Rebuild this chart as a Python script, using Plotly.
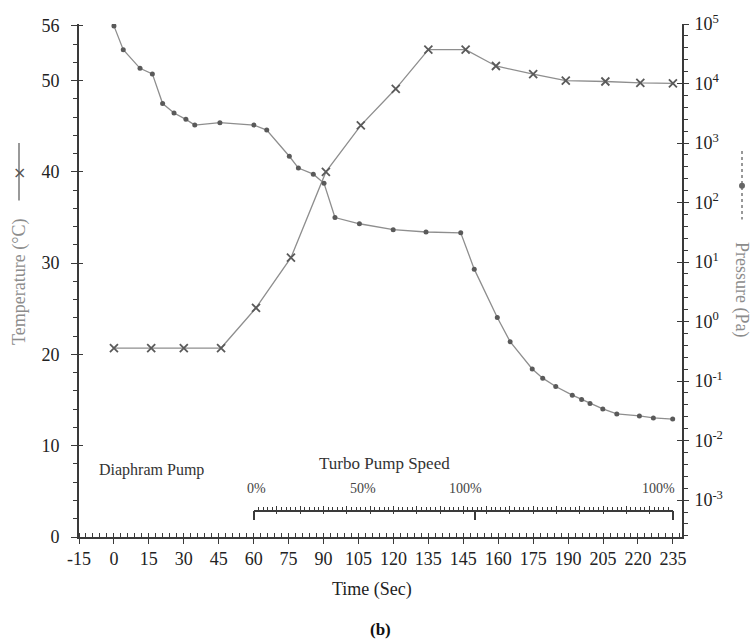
import plotly.graph_objects as go

# ---------------- data (x in axis-position units) ----------------
temp_time = [0, 16, 30, 46, 61, 76, 91, 106, 121, 135, 151, 164, 180, 194, 211, 226, 240]
temp_vals = [20.7, 20.7, 20.7, 20.7, 25.1, 30.6, 40.0, 45.1, 49.1, 53.4, 53.4, 51.6, 50.7, 50.0, 49.9, 49.75, 49.7]

pres_time = [0.0, 4.0, 11.2, 16.5, 20.9, 25.8, 30.9, 34.7, 45.5, 60.1, 65.6, 75.3, 79.2, 85.6, 90.2,
             94.9, 105.4, 119.9, 134.0, 148.9, 154.7, 164.6, 170.1, 179.6, 184.1, 189.7, 196.8,
             200.8, 204.4, 209.9, 215.9, 225.6, 231.6, 239.9]
pres_vals = [9.3e4, 3.7e4, 1.8e4, 1.45e4, 4.6e3, 3.2e3, 2.5e3, 2.0e3, 2.2e3, 2.0e3, 1.65e3, 6.0e2,
             3.8e2, 3.0e2, 2.1e2, 56, 44, 35, 32, 31, 7.6, 1.17, 0.46, 0.16, 0.112, 0.081, 0.058,
             0.049, 0.042, 0.034, 0.028, 0.026, 0.024, 0.023]

x_tick_pos = [-15, 0, 15, 30, 45, 60, 75, 90, 105, 120, 135, 150, 165, 180, 195, 210, 225, 240]
x_tick_text = ["-15", "0", "15", "30", "45", "60", "75", "90", "105", "120", "135", "145",
               "160", "175", "190", "205", "220", "235"]
t_tick_vals = [0, 10, 20, 30, 40, 50, 56]
p_exponents = [-3, -2, -1, 0, 1, 2, 3, 4, 5]
ruler_big_ticks = [60, 155, 240]
ruler_labels = ["0%", "50%", "100%", "100%"]
ruler_label_pos = [61, 107, 151, 234]

# ---------------- layout constants ----------------
XMIN, XMAX = -15, 243.9
TMAX = 56.2
PMIN, PMAX = -3.62, 5.0
FONT = "Liberation Serif"
AX = "#3a3a3a"
LINE = "#8e8e8e"
MARK = "#5a5a5a"
TITLE = "#8c8c8c"
W, H = 752, 641
ML, MR, MT, MB = 79, 70, 20, 104
PW, PH = W - ML - MR, H - MT - MB


def px(xp):
    return (xp - ML) / PW


def py(yp):
    return (H - MB - yp) / PH


def xfrac(v):
    return (v - XMIN) / (XMAX - XMIN)


fig = go.Figure()

fig.add_trace(go.Scatter(x=pres_time, y=pres_vals, xaxis="x", yaxis="y2", mode="lines+markers",
                         line=dict(color=LINE, width=1.3),
                         marker=dict(symbol="circle", size=5, color=MARK),
                         showlegend=False, hoverinfo="skip"))
fig.add_trace(go.Scatter(x=temp_time, y=temp_vals, xaxis="x", yaxis="y", mode="lines+markers",
                         line=dict(color=LINE, width=1.3),
                         marker=dict(symbol="x-thin", size=8, line=dict(color=MARK, width=1.8)),
                         showlegend=False, hoverinfo="skip"))

# empty traces so helper axes are drawn
for xa, ya in [("x2", "y"), ("x", "y4"), ("x", "y5"), ("x3", "y3"), ("x4", "y3"), ("x5", "y3")]:
    fig.add_trace(go.Scatter(x=[], y=[], xaxis=xa, yaxis=ya, showlegend=False, hoverinfo="skip"))

tickfont = dict(family=FONT, size=18, color="#222")
ruler_y = py(510)

fig.update_layout(
    width=W, height=H, autosize=False,
    margin=dict(l=ML, r=MR, t=MT, b=MB),
    paper_bgcolor="white", plot_bgcolor="rgba(0,0,0,0)",
    showlegend=False,
    xaxis=dict(range=[XMIN, XMAX], tickmode="array", tickvals=x_tick_pos, ticktext=x_tick_text,
               ticks="outside", ticklen=5, tickwidth=1.3, tickcolor=AX,
               minor=dict(tickmode="linear", tick0=-15, dtick=3, ticks="inside", ticklen=4,
                          tickwidth=1, tickcolor=AX, showgrid=False),
               showline=True, linecolor=AX, linewidth=1.6, showgrid=False, zeroline=False,
               tickfont=tickfont, anchor="y"),
    xaxis2=dict(range=[XMIN, XMAX], overlaying="x", anchor="y", tickmode="array", tickvals=x_tick_pos,
                ticks="inside", ticklen=4, tickwidth=1.3, tickcolor=AX, showticklabels=False,
                showline=False, showgrid=False, zeroline=False),
    yaxis=dict(range=[0, TMAX], tickmode="array", tickvals=t_tick_vals,
               ticks="outside", ticklen=6, tickwidth=1.3, tickcolor=AX,
               minor=dict(tickmode="linear", tick0=0, dtick=2, ticks="outside", ticklen=4,
                          tickwidth=1, tickcolor=AX, showgrid=False),
               showline=True, linecolor=AX, linewidth=1.6, showgrid=False, zeroline=False,
               tickfont=tickfont, ticklabelstandoff=8, anchor="x"),
    yaxis4=dict(range=[0, TMAX], overlaying="y", side="left", anchor="x", tickmode="array",
                tickvals=t_tick_vals, ticks="inside", ticklen=4, tickwidth=1.3, tickcolor=AX,
                showticklabels=False, showline=False, showgrid=False, zeroline=False),
    yaxis2=dict(type="log", range=[PMIN, PMAX], overlaying="y", side="right", anchor="x",
                tickmode="array", tickvals=[10 ** e for e in p_exponents],
                ticktext=["10<sup>%d</sup>" % e for e in p_exponents],
                ticks="outside", ticklen=5, tickwidth=1.3, tickcolor=AX,
                minor=dict(tickmode="linear", tick0=0, dtick=0.2, ticks="outside", ticklen=4,
                           tickwidth=1, tickcolor=AX, showgrid=False),
                showline=True, linecolor=AX, linewidth=1.6, showgrid=False, zeroline=False,
                tickfont=tickfont, ticklabelstandoff=2),
    yaxis5=dict(type="log", range=[PMIN, PMAX], overlaying="y", side="right", anchor="x",
                tickmode="array", tickvals=[10 ** e for e in p_exponents],
                ticks="inside", ticklen=5, tickwidth=1.3, tickcolor=AX, showticklabels=False,
                showline=False, showgrid=False, zeroline=False),
    # turbo pump speed ruler
    xaxis3=dict(domain=[xfrac(60), xfrac(240)], range=[60, 240], anchor="y3",
                tickmode="linear", tick0=60, dtick=10, ticks="inside", ticklen=4, tickwidth=1.2,
                tickcolor=AX, showticklabels=False,
                minor=dict(tickmode="linear", tick0=60, dtick=2, ticks="inside", ticklen=3,
                           tickwidth=1, tickcolor=AX, showgrid=False),
                showline=True, linecolor=AX, linewidth=1.5, showgrid=False, zeroline=False),
    xaxis4=dict(range=[60, 240], overlaying="x3", anchor="y3", tickmode="linear", tick0=60, dtick=10,
                ticks="outside", ticklen=3, tickwidth=1.2, tickcolor=AX, showticklabels=False,
                showline=False, showgrid=False, zeroline=False),
    xaxis5=dict(range=[60, 240], overlaying="x3", anchor="y3", tickmode="array",
                tickvals=ruler_big_ticks, ticks="outside", ticklen=9, tickwidth=1.5, tickcolor=AX,
                showticklabels=False, showline=False, showgrid=False, zeroline=False),
    yaxis3=dict(domain=[ruler_y, ruler_y + 0.02], anchor="x3", visible=False, range=[0, 1]),
)

C = dict(xanchor="center", yanchor="middle", showarrow=False)
ann = []
ann.append(dict(text="Time (Sec)", x=px(372), y=py(590), xref="paper", yref="paper",
                font=dict(family=FONT, size=18, color="#222"), **C))
ann.append(dict(text="<b>(b)</b>", x=px(380), y=py(630), xref="paper", yref="paper",
                font=dict(family=FONT, size=17, color="#111"), **C))
ann.append(dict(text="Temperature (°C)", x=px(20), y=py(280), xref="paper", yref="paper",
                textangle=-90, font=dict(family=FONT, size=18, color=TITLE), **C))
ann.append(dict(text="Pressure (Pa)", x=px(741), y=py(287), xref="paper", yref="paper",
                textangle=90, font=dict(family=FONT, size=18, color=TITLE), **C))
ann.append(dict(text="×", x=px(19), y=py(170), xref="paper", yref="paper",
                font=dict(family="DejaVu Sans", size=16, color="#555"), **C))
ann.append(dict(text="Diaphram Pump", x=16, y=7.3, xref="x", yref="y",
                font=dict(family=FONT, size=16, color="#333"), **C))
ann.append(dict(text="Turbo Pump Speed", x=116, y=8.1, xref="x", yref="y",
                font=dict(family=FONT, size=17, color="#333"), **C))
for lab, pos in zip(ruler_labels, ruler_label_pos):
    ann.append(dict(text=lab, x=pos, y=5.3, xref="x", yref="y",
                    font=dict(family=FONT, size=14, color="#444"), **C))
fig.update_layout(annotations=ann)

shapes = []
# legend icon for temperature (left)
shapes.append(dict(type="line", xref="paper", yref="paper", x0=px(19), x1=px(19),
                   y0=py(140), y1=py(198), line=dict(color="#777", width=1.5)))
# legend icon for pressure (right)
shapes.append(dict(type="line", xref="paper", yref="paper", x0=px(742), x1=px(742),
                   y0=py(148), y1=py(217), line=dict(color="#777", width=1.5, dash="dot")))
shapes.append(dict(type="circle", xref="paper", yref="paper", xsizemode="pixel", ysizemode="pixel",
                   xanchor=px(742), yanchor=py(183), x0=-3, x1=3, y0=-3, y1=3,
                   fillcolor="#666", line=dict(color="#666", width=0)))
fig.update_layout(shapes=shapes)

fig.write_html("out.html", config={"displayModeBar": False},
               post_script="document.body.style.margin='0';document.body.style.overflow='hidden';")
